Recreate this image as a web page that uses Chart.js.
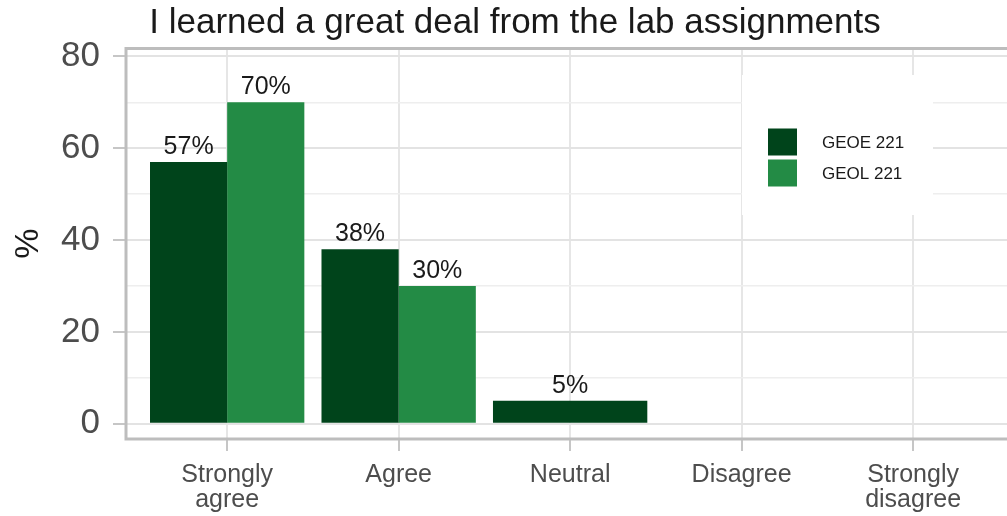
<!DOCTYPE html>
<html>
<head>
<meta charset="utf-8">
<script src="https://cdn.jsdelivr.net/npm/chart.js@4/dist/chart.umd.min.js"></script>
<style>
  html, body { margin: 0; padding: 0; background: #ffffff; overflow: hidden; }
  #wrap { width: 1030px; height: 516px; }
</style>
</head>
<body>
<div id="wrap"><canvas id="c" width="1030" height="516"></canvas></div>
<script>
// Survey responses, percent of students in each course
const titleText = 'I learned a great deal from the lab assignments';
const categories = ['Strongly agree', 'Agree', 'Neutral', 'Disagree', 'Strongly disagree'];
const tickLabels = [['Strongly', 'agree'], ['Agree'], ['Neutral'], ['Disagree'], ['Strongly', 'disagree']];
const seriesNames = ['GEOE 221', 'GEOL 221'];
const geoe221 = [57, 38, 5, null, null];
const geol221 = [70, 30, null, null, null];
const yTickValues = [0, 10, 20, 30, 40, 50, 60, 70, 80];
const yMajorStep = 20;

const seriesColors = ['#00441b', '#238b45'];
const fontFamily = "'Liberation Sans', Arial, Helvetica, sans-serif";

const toPoints = (vals) => categories.map((c, i) => ({ x: i + 1, y: vals[i] }));

// Value labels above each bar
const valueLabels = {
  id: 'valueLabels',
  afterDatasetsDraw(chart) {
    const ctx = chart.ctx;
    ctx.save();
    ctx.font = '25px ' + fontFamily;
    ctx.fillStyle = '#1a1a1a';
    ctx.textAlign = 'center';
    ctx.textBaseline = 'alphabetic';
    chart.data.datasets.forEach((ds, di) => {
      const meta = chart.getDatasetMeta(di);
      meta.data.forEach((el, i) => {
        const v = ds.data[i].y;
        if (v === null || v === undefined) return;
        ctx.fillText(v + '%', el.x, el.y - 8);
      });
    });
    ctx.restore();
  }
};

// Panel border and the legend box inside the plot panel
const panelDecor = {
  id: 'panelDecor',
  afterDatasetsDraw(chart, args, opts) {
    const ctx = chart.ctx;
    const a = chart.chartArea;
    ctx.save();
    // legend
    const lg = opts.legend;
    ctx.fillStyle = '#ffffff';
    ctx.fillRect(lg.x, lg.y, lg.w, lg.h);
    ctx.font = lg.fontSize + 'px ' + fontFamily;
    ctx.textBaseline = 'middle';
    ctx.textAlign = 'left';
    chart.data.datasets.forEach((ds, i) => {
      const top = lg.keyTop + i * lg.keyPitch;
      ctx.fillStyle = ds.backgroundColor;
      ctx.fillRect(lg.keyX, top, lg.keyW, lg.keyH);
      ctx.fillStyle = '#1a1a1a';
      ctx.fillText(ds.label, lg.textX, top + lg.keyH / 2 + 1);
    });
    // border
    ctx.strokeStyle = '#bdbdbd';
    ctx.lineWidth = 3;
    ctx.strokeRect(a.left, a.top, a.right - a.left, a.bottom - a.top);
    ctx.restore();
  }
};

new Chart(document.getElementById('c'), {
  type: 'bar',
  data: {
    datasets: [
      { label: seriesNames[0], data: toPoints(geoe221), backgroundColor: seriesColors[0] },
      { label: seriesNames[1], data: toPoints(geol221), backgroundColor: seriesColors[1] }
    ]
  },
  options: {
    responsive: false,
    animation: false,
    devicePixelRatio: 1,
    layout: { padding: { left: 14, right: 14, top: 0, bottom: 0 } },
    datasets: {
      bar: { categoryPercentage: 0.9, barPercentage: 1.0, skipNull: true, borderWidth: 0 }
    },
    plugins: {
      legend: { display: false },
      tooltip: { enabled: false },
      title: {
        display: true,
        text: titleText,
        color: '#1a1a1a',
        font: { family: fontFamily, size: 35, weight: 'normal', lineHeight: 1.2 },
        padding: { top: 2, bottom: 4.5 }
      },
      panelDecor: {
        legend: { x: 742, y: 75, w: 191, h: 140, keyX: 768, keyW: 29, keyH: 27, keyTop: 128.5, keyPitch: 31, textX: 822, fontSize: 17 }
      }
    },
    scales: {
      x: {
        type: 'linear',
        min: 0.41,
        max: 5.6,
        offset: false,
        border: { display: false },
        grid: {
          offset: false,
          color: '#e6e6e6',
          lineWidth: 2,
          tickLength: 12,
          tickColor: '#b3b3b3',
          tickWidth: 1.5
        },
        afterBuildTicks(scale) {
          scale.ticks = categories.map((c, i) => ({ value: i + 1 }));
        },
        afterFit(scale) { scale.height = 77; },
        ticks: {
          autoSkip: false,
          maxRotation: 0,
          minRotation: 0,
          padding: 12,
          color: '#4d4d4d',
          font: { family: fontFamily, size: 25, lineHeight: 1.0 },
          callback: (v) => tickLabels[Math.round(v) - 1]
        }
      },
      y: {
        min: -3.3,
        max: 81.7,
        border: { display: false },
        grid: {
          color: (ctx) => (ctx.tick && ctx.tick.value % yMajorStep === 0) ? '#e3e3e3' : '#eeeeee',
          lineWidth: (ctx) => (ctx.tick && ctx.tick.value % yMajorStep === 0) ? 2 : 1.5,
          tickLength: 13,
          tickColor: (ctx) => (ctx.tick && ctx.tick.value % yMajorStep === 0) ? '#b3b3b3' : 'rgba(0,0,0,0)',
          tickWidth: 1.5
        },
        afterBuildTicks(scale) {
          scale.ticks = yTickValues.map(v => ({ value: v }));
        },
        afterFit(scale) { scale.width = 112; },
        ticks: {
          padding: 13,
          color: '#4d4d4d',
          font: { family: fontFamily, size: 35 },
          callback: (v) => (v % yMajorStep === 0 ? String(v) : '')
        },
        title: {
          display: true,
          text: '%',
          color: '#1a1a1a',
          font: { family: fontFamily, size: 34, lineHeight: 0.8 },
          padding: { top: 1, bottom: 0 }
        }
      }
    }
  },
  plugins: [valueLabels, panelDecor]
});
</script>
</body>
</html>
